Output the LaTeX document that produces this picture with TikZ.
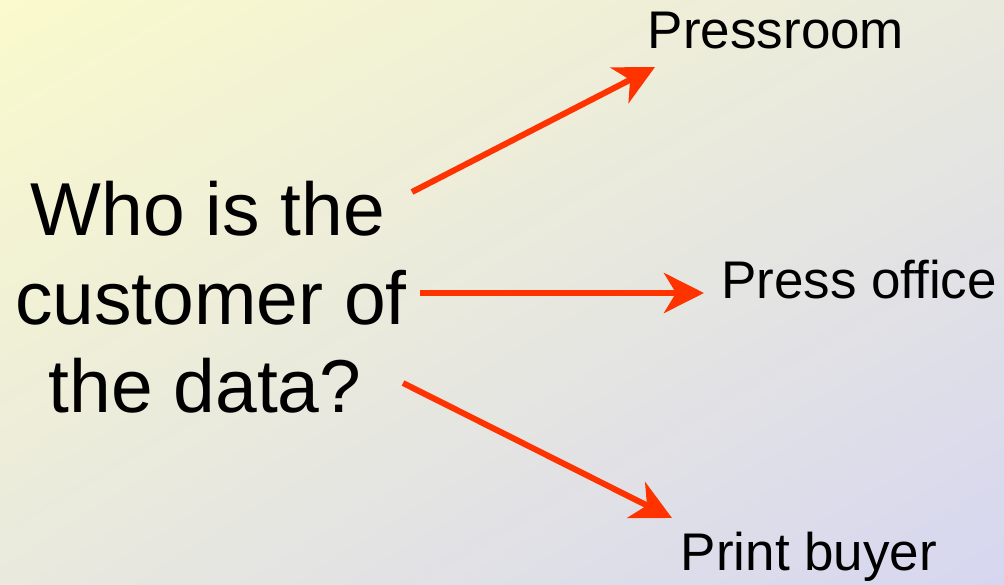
\documentclass[tikz,border=0pt]{standalone}
\usepackage{fontspec}
\setmainfont{Liberation Sans}
\usetikzlibrary{arrows.meta,shadings}
\definecolor{bgTL}{RGB}{250,250,204}
\definecolor{bgMid}{RGB}{233,233,222}
\definecolor{bgBR}{RGB}{214,214,240}
\definecolor{arrowred}{RGB}{255,51,0}
\tikzset{
  big/.style={inner sep=0pt, anchor=base, font=\fontsize{75}{88}\selectfont},
  lbl/.style={inner sep=0pt, anchor=base, font=\fontsize{53}{60}\selectfont},
  redarrow/.style={draw=arrowred, line width=6pt,
    -{Stealth[length=40pt,width=40pt,inset=12pt]}}
}
\begin{document}
\begin{tikzpicture}[x=1pt,y=-1pt]
\useasboundingbox (0,0) rectangle (1004,584);
\shade[upper left=bgTL, upper right=bgMid, lower left=bgMid, lower right=bgBR]
  (0,0) rectangle (1004,584);
\node[big] (q1) at (208,235) {Who is the};
\node[big] (q2) at (211,324) {customer of};
\node[big] (q3) at (205,412) {the data?};
\node[lbl] (pressroom) at (776,48) {Pressroom};
\node[lbl] (office) at (859,298) {Press office};
\node[lbl] (buyer) at (809,570) {Print buyer};
\coordinate (t1) at (412,192);
\coordinate (h1) at (655,67);
\coordinate (t2) at (420,293);
\coordinate (h2) at (704,293);
\coordinate (t3) at (403,383);
\coordinate (h3) at (672,518);
\draw[redarrow] (t1) -- (h1);
\draw[redarrow] (t2) -- (h2);
\draw[redarrow] (t3) -- (h3);
\end{tikzpicture}
\end{document}
